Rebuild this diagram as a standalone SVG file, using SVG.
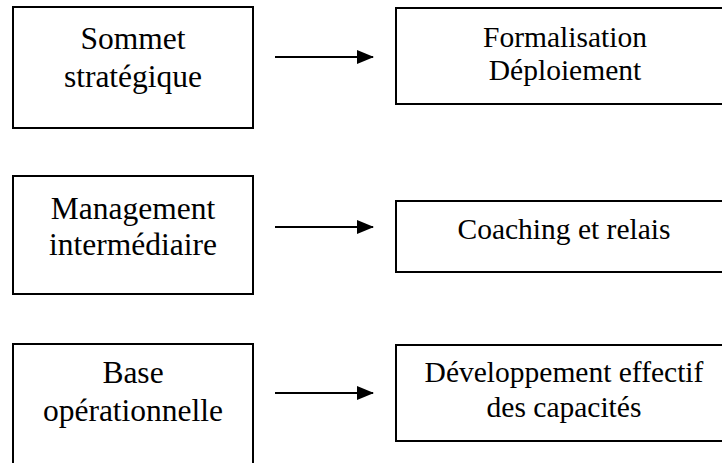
<svg xmlns="http://www.w3.org/2000/svg" width="722" height="463" viewBox="0 0 722 463">
  <defs>
    <marker id="arrowhead" markerWidth="17" markerHeight="14" refX="16" refY="7" orient="auto" markerUnits="userSpaceOnUse">
      <path d="M0,0 L17,7 L0,14 Z" fill="#000"/>
    </marker>
    <style>
      .box { fill: #fff; stroke: #000; stroke-width: 2; }
      .lbl { font-family: "Liberation Serif", "Times New Roman", serif; fill: #000; text-anchor: middle; }
      .left { font-size: 31.5px; }
      .right { font-size: 29.5px; }
      .conn { stroke: #000; stroke-width: 2; fill: none; }
    </style>
  </defs>
  <rect width="722" height="463" fill="#fff"/>

  <g id="sommet">
    <rect class="box" x="13" y="7" width="240" height="121"/>
    <text class="lbl left" x="133" y="49">Sommet</text>
    <text class="lbl left" x="133" y="87">stratégique</text>
  </g>
  <g id="formalisation">
    <rect class="box" x="396" y="8" width="340" height="96"/>
    <text class="lbl right" x="565" y="47">Formalisation</text>
    <text class="lbl right" x="565" y="80">Déploiement</text>
  </g>

  <g id="management">
    <rect class="box" x="13" y="176" width="240" height="118"/>
    <text class="lbl left" x="133" y="219">Management</text>
    <text class="lbl left" x="133" y="255">intermédiaire</text>
  </g>
  <g id="coaching">
    <rect class="box" x="396" y="201" width="340" height="71"/>
    <text class="lbl right" x="564" y="239">Coaching et relais</text>
  </g>

  <g id="base">
    <rect class="box" x="13" y="344" width="240" height="130"/>
    <text class="lbl left" x="133" y="383">Base</text>
    <text class="lbl left" x="133" y="421">opérationnelle</text>
  </g>
  <g id="developpement">
    <rect class="box" x="396" y="345" width="340" height="96"/>
    <text class="lbl right" x="564" y="382">Développement effectif</text>
    <text class="lbl right" x="564" y="417">des capacités</text>
  </g>

  <g id="connectors">
    <line class="conn" x1="275" y1="57" x2="373" y2="57" marker-end="url(#arrowhead)"/>
    <line class="conn" x1="275" y1="227" x2="373" y2="227" marker-end="url(#arrowhead)"/>
    <line class="conn" x1="275" y1="393" x2="373" y2="393" marker-end="url(#arrowhead)"/>
  </g>
</svg>
